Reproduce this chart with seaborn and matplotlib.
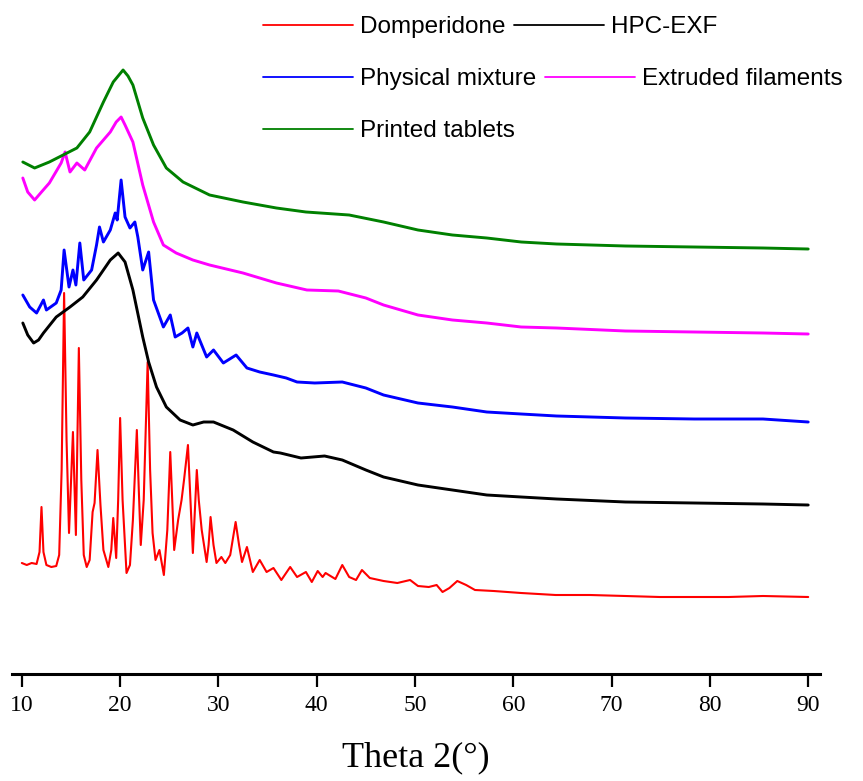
import numpy as np
import pandas as pd
import matplotlib
matplotlib.use("Agg")
import matplotlib.pyplot as plt
import seaborn as sns

# 2-theta positions and stacked intensities (a.u.)
dom_x = [10.0, 10.5, 11.0, 11.5, 11.8, 12.0, 12.2, 12.5, 13.0, 13.5, 13.8, 14.05, 14.3, 14.55, 14.8,
         15.2, 15.5, 15.8, 16.05, 16.3, 16.6, 16.9, 17.2, 17.4, 17.7, 18.0, 18.3, 18.8, 19.1, 19.3,
         19.6, 19.8, 20.0, 20.25, 20.65, 21.0, 21.3, 21.7, 21.9, 22.1, 22.4, 22.8, 23.05, 23.3, 23.6,
         24.0, 24.45, 24.8, 25.1, 25.3, 25.5, 25.9, 26.25, 26.5, 26.9, 27.2, 27.4, 27.8, 28.0, 28.3,
         28.8, 29.0, 29.2, 29.5, 29.8, 30.3, 30.7, 31.2, 31.75, 32.1, 32.4, 32.9, 33.5, 34.2, 34.9,
         35.6, 36.4, 37.3, 38.0, 38.9, 39.5, 40.1, 40.6, 40.9, 41.9, 42.6, 43.3, 44.0, 44.6, 45.4,
         46.8, 48.2, 49.5, 50.3, 51.4, 52.2, 52.8, 53.5, 54.3, 55.2, 56.1, 58.0, 60.8, 64.3, 67.8,
         71.4, 74.9, 78.4, 81.9, 85.4, 90.0]
dom_y = [111, 109, 111, 110, 122, 167, 122, 109, 107, 108, 119, 204, 381, 234, 141,
         242, 139, 326, 194, 119, 107, 114, 162, 171, 224, 169, 124, 107, 124, 156,
         116, 174, 256, 174, 101, 109, 154, 244, 184, 129, 174, 312, 204, 141, 114,
         124, 99, 144, 222, 174, 124, 154, 174, 194, 229, 164, 121, 204, 174, 144,
         112, 129, 157, 129, 111, 117, 111, 119, 152, 129, 112, 127, 102, 114, 102,
         106, 94, 107, 97, 102, 92, 103, 97, 101, 95, 109, 97, 94, 104, 96,
         93, 91, 94, 88, 87, 89, 82, 86, 93, 89, 84, 83, 81, 79, 79,
         78, 77, 77, 77, 78, 77]

hpc_x = [10.1, 10.6, 11.2, 11.7, 12.2, 13.5, 14.9, 16.2, 17.6, 19.0, 19.8, 20.5, 21.3, 22.3, 22.9,
         23.7, 24.7, 26.1, 27.4, 28.5, 29.5, 31.5, 33.5, 35.6, 36.3, 38.4, 40.8, 42.6, 45.0, 46.8,
         50.3, 53.8, 57.3, 60.8, 64.4, 71.4, 78.4, 85.4, 90.0]
hpc_y = [351, 339, 331, 334, 341, 357, 367, 377, 394, 414, 421, 412, 384, 337, 312,
         287, 267, 254, 249, 252, 252, 244, 232, 222, 221, 216, 218, 214, 204, 197,
         189, 184, 179, 177, 175, 172, 171, 170, 169]

pm_x = [10.1, 10.8, 11.5, 12.2, 12.5, 13.5, 14.0, 14.3, 14.8, 15.2, 15.5, 15.9, 16.3, 17.1, 17.6,
        17.9, 18.3, 19.0, 19.5, 19.7, 20.1, 20.5, 21.0, 21.5, 21.8, 22.3, 22.9, 23.4, 24.4, 25.1,
        25.6, 26.3, 26.9, 27.4, 27.8, 28.8, 29.5, 30.5, 31.8, 32.9, 34.2, 35.6, 36.9, 38.0, 39.8,
        42.6, 45.0, 46.8, 50.3, 53.8, 57.3, 60.8, 64.4, 71.4, 78.4, 85.4, 90.0]
pm_y = [379, 367, 361, 374, 364, 371, 384, 424, 387, 404, 389, 431, 394, 404, 429,
        447, 432, 444, 461, 454, 494, 457, 446, 452, 437, 404, 422, 374, 347, 359,
        337, 341, 346, 327, 341, 317, 324, 311, 319, 306, 302, 299, 296, 292, 291,
        292, 286, 279, 271, 267, 262, 260, 258, 256, 255, 255, 252]

ef_x = [10.1, 10.6, 11.3, 12.0, 12.8, 14.0, 14.4, 14.9, 15.6, 16.4, 17.6, 19.0, 19.6, 20.1, 20.5,
        21.3, 22.3, 23.4, 24.4, 25.7, 27.4, 29.1, 32.5, 35.9, 39.0, 42.2, 45.0, 46.8, 50.3, 53.8,
        57.3, 60.8, 64.4, 71.4, 78.4, 85.4, 90.0]
ef_y = [496, 482, 474, 482, 491, 511, 522, 502, 511, 504, 526, 542, 552, 557, 549,
        532, 489, 452, 429, 421, 414, 409, 401, 391, 384, 383, 376, 369, 359, 354,
        351, 347, 346, 343, 342, 341, 340]

pt_x = [10.1, 11.3, 12.8, 14.2, 15.6, 16.9, 18.3, 19.3, 19.8, 20.3, 20.8, 21.3, 22.3, 23.4, 24.7,
        26.4, 29.1, 32.5, 35.9, 38.9, 43.3, 46.8, 50.3, 53.8, 57.3, 60.8, 64.4, 71.4, 78.4, 85.4,
        90.0]
pt_y = [512, 506, 512, 519, 526, 542, 572, 592, 598, 604, 598, 589, 556, 529, 506,
        492, 479, 472, 466, 462, 459, 452, 444, 439, 436, 432, 430, 428, 427, 426,
        425]

labels = ["Domperidone", "HPC-EXF", "Physical mixture", "Extruded filaments", "Printed tablets"]
colors = ["#FF0000", "#000000", "#0000FF", "#FF00FF", "#008000"]
xticks = [10, 20, 30, 40, 50, 60, 70, 80, 90]

series = [(dom_x, dom_y), (hpc_x, hpc_y), (pm_x, pm_y), (ef_x, ef_y), (pt_x, pt_y)]
frames = []
for name, (xs, ys) in zip(labels, series):
    frames.append(pd.DataFrame({"theta": xs, "intensity": ys, "sample": name}))
df = pd.concat(frames, ignore_index=True)

sns.set_theme(style="white")
plt.rcParams["text.color"] = "black"
plt.rcParams["xtick.color"] = "black"
plt.rcParams["axes.labelcolor"] = "black"

fig = plt.figure(figsize=(8.63, 7.81), dpi=100)
ax = fig.add_axes([12 / 863, 107 / 781, 808 / 863, 674 / 781])

for name, col in zip(labels, colors):
    sub = df[df["sample"] == name]
    sns.lineplot(data=sub, x="theta", y="intensity", ax=ax, color=col,
                 linewidth=1.5 if name == "Domperidone" else 2.1,
                 estimator=None, sort=False, label=name, legend=False)

ax.set_xlim(9.0, 91.2)
ax.set_ylim(0, 674)
ax.set_xticks(xticks)
ax.set_xticklabels([str(t) for t in xticks], family="Liberation Serif", fontsize=17, color="black")
ax.set_yticks([])
ax.set_ylabel("")
ax.set_xlabel("Theta 2(°)", family="Liberation Serif", fontsize=26, labelpad=18, color="black")
for s in ["left", "right", "top"]:
    ax.spines[s].set_visible(False)
ax.spines["bottom"].set_linewidth(2.2)
ax.spines["bottom"].set_color("black")
ax.tick_params(axis="x", direction="out", length=9, width=1.6, color="black", pad=6, bottom=True)

# legend written row by row like the original
lines = {ln.get_label(): ln for ln in ax.get_lines()}
rows = [["Domperidone", "HPC-EXF"], ["Physical mixture", "Extruded filaments"], ["Printed tablets"]]
row_y = [1 - 27 / 781, 1 - 79 / 781, 1 - 131 / 781]
for row, yy in zip(rows, row_y):
    leg = fig.legend([lines[n] for n in row], row, loc="center left",
                     bbox_to_anchor=(263 / 863, yy), bbox_transform=fig.transFigure,
                     ncol=len(row), frameon=False, borderpad=0, borderaxespad=0,
                     handlelength=3.7, handletextpad=0.3, columnspacing=0.35,
                     prop={"family": "Liberation Sans", "size": 17.5})
    for h in leg.get_lines():
        h.set_linewidth(1.3)
    for t in leg.get_texts():
        t.set_color("black")

plt.savefig("out.png", dpi=100)
